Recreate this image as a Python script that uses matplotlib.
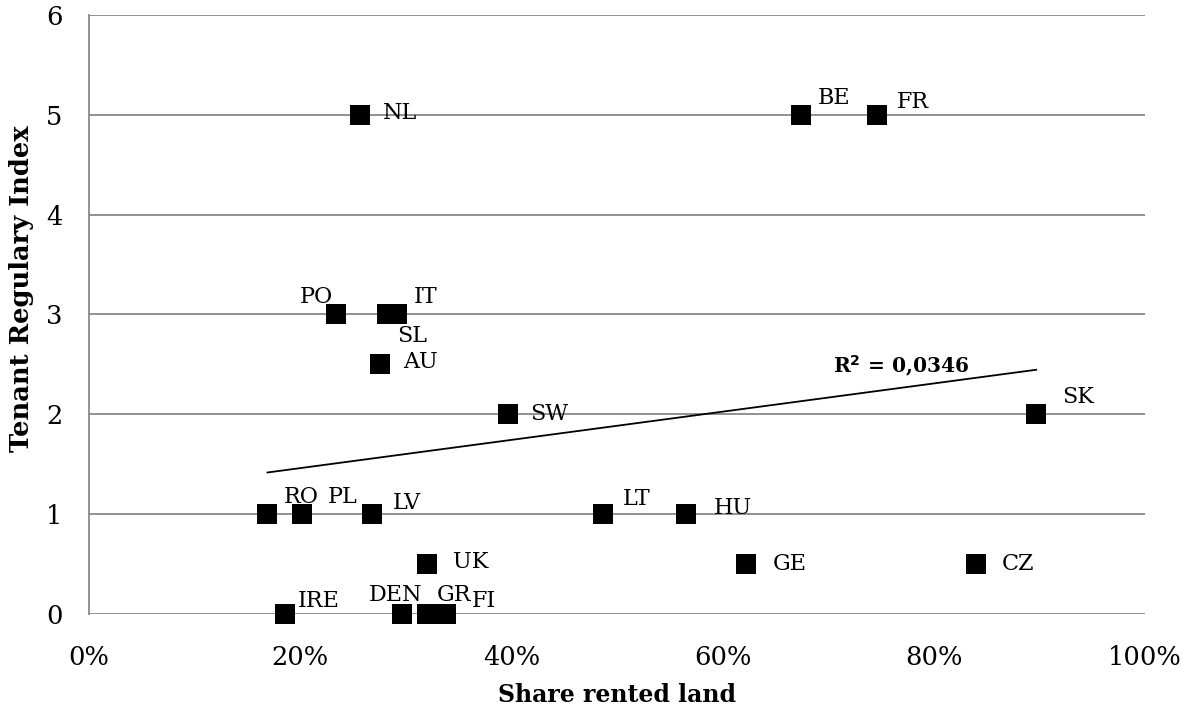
import numpy as np
import matplotlib.pyplot as plt
from matplotlib.ticker import PercentFormatter

# country codes, share of rented land, tenant regulation index
countries = ['NL', 'BE', 'FR', 'PO', 'IT', 'SL', 'AU', 'SW', 'SK',
             'RO', 'PL', 'LV', 'LT', 'HU', 'UK', 'GE', 'CZ',
             'IRE', 'DEN', 'GR', 'FI']
share_rented = [0.257, 0.674, 0.746, 0.234, 0.282, 0.292, 0.276, 0.397, 0.897,
                0.169, 0.202, 0.268, 0.487, 0.565, 0.320, 0.622, 0.840,
                0.186, 0.296, 0.320, 0.338]
tenant_index = [5, 5, 5, 3, 3, 3, 2.5, 2, 2,
                1, 1, 1, 1, 1, 0.5, 0.5, 0.5,
                0, 0, 0, 0]
r2_text = 'R$^\\mathbf{2}$ = 0,0346'

# label offsets in pixels (manual placement like in the original)
label_offsets = {
    'NL': (22, 2), 'BE': (17, 17), 'FR': (20, 13), 'PO': (-36, 17),
    'IT': (27, 17), 'SL': (0, -22), 'AU': (23, 2), 'SW': (22, 0),
    'SK': (26, 17), 'RO': (16, 17), 'PL': (25, 17), 'LV': (21, 11),
    'LT': (20, 15), 'HU': (28, 6), 'UK': (26, 2), 'GE': (27, 0),
    'CZ': (26, 0), 'IRE': (12, 13), 'DEN': (-33, 19), 'GR': (10, 19),
    'FI': (26, 13),
}

plt.rcParams['font.family'] = ['DejaVu Serif']

fig = plt.figure(figsize=(11.98, 7.11), dpi=100)
ax = fig.add_axes([0.0743, 0.1364, 0.9557 - 0.0743, 0.979 - 0.1364])

ax.scatter(share_rented, tenant_index, marker='s', s=210, color='black',
           zorder=3, linewidths=0, clip_on=False)

for name, x, y in zip(countries, share_rented, tenant_index):
    dx, dy = label_offsets[name]
    ax.annotate(name, (x, y), xytext=(dx, dy), textcoords='offset pixels',
                ha='left', va='center', fontsize=16, zorder=4)

# linear trendline
xs = np.array(share_rented)
ys = np.array(tenant_index)
slope, intercept = np.polyfit(xs, ys, 1)
x_line = np.array([xs.min(), xs.max()])
ax.plot(x_line, slope * x_line + intercept, color='black', lw=1.3, zorder=2)
ax.text(0.833, 2.48, r2_text, ha='right', va='center', fontsize=14.5,
        fontweight='bold')

ax.set_xlim(0, 1)
ax.set_ylim(0, 6)
ax.set_yticks(range(0, 7))
ax.set_xticks(np.arange(0, 1.01, 0.2))
ax.xaxis.set_major_formatter(PercentFormatter(1.0, decimals=0))
ax.grid(axis='y', color='#888888', lw=1.3)
ax.set_axisbelow(True)
for side in ['top', 'right', 'bottom']:
    ax.spines[side].set_visible(False)
ax.spines['left'].set_color('#888888')
ax.spines['left'].set_linewidth(1.3)
ax.tick_params(length=0, labelsize=18.5)
ax.tick_params(axis='x', pad=22)
ax.tick_params(axis='y', pad=19)

ax.set_xlabel('Share rented land', fontsize=17, fontweight='bold', labelpad=10)
ax.set_ylabel('Tenant Regulary Index', fontsize=18.5, fontweight='bold')
ax.yaxis.set_label_coords(34 / 1198, (711 - 289) / 711, transform=fig.transFigure)

fig.savefig('out.png', dpi=100)
